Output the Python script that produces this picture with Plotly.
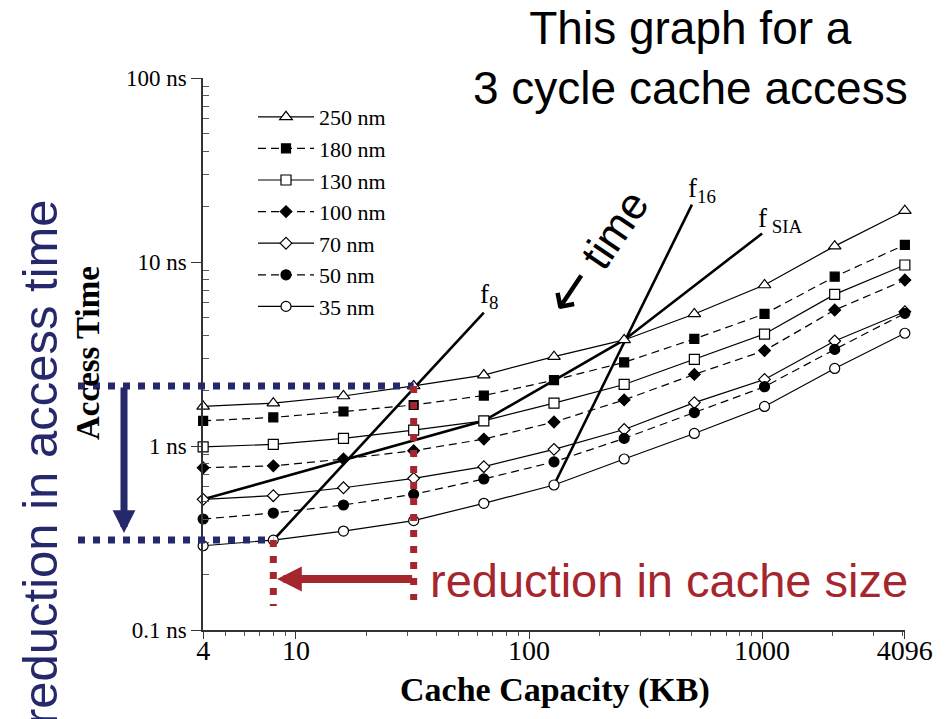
import math
import plotly.graph_objects as go

# ---------------- data ----------------
capacity_kb = [4, 8, 16, 32, 64, 128, 256, 512, 1024, 2048, 4096]
t_250nm = [1.64, 1.71, 1.87, 2.12, 2.43, 3.06, 3.77, 5.22, 7.50, 12.2, 19.0]
t_180nm = [1.37, 1.43, 1.54, 1.67, 1.88, 2.28, 2.85, 3.82, 5.22, 8.32, 12.4]
t_130nm = [0.99, 1.02, 1.10, 1.22, 1.37, 1.71, 2.16, 2.96, 4.06, 6.67, 9.63]
t_100nm = [0.762, 0.78, 0.85, 0.943, 1.09, 1.35, 1.78, 2.45, 3.30, 5.48, 7.98]
t_70nm = [0.513, 0.537, 0.593, 0.667, 0.772, 0.959, 1.23, 1.72, 2.30, 3.72, 5.37]
t_50nm = [0.401, 0.432, 0.478, 0.546, 0.662, 0.82, 1.10, 1.52, 2.10, 3.35, 5.26]
t_35nm = [0.287, 0.308, 0.345, 0.393, 0.488, 0.614, 0.85, 1.17, 1.64, 2.64, 4.10]

series_names = ["250 nm", "180 nm", "130 nm", "100 nm", "70 nm", "50 nm", "35 nm"]

f8_x = [8, 64]
f8_y = [0.308, 5.3]
f16_x = [128, 500]
f16_y = [0.614, 20.5]
fsia_x = [4, 64, 256, 1000]
fsia_y = [0.513, 1.37, 3.77, 14.3]

x_tick_vals = [4, 10, 100, 1000, 4096]
x_tick_text = ["4", "10", "100", "1000", "4096"]
y_tick_vals = [0.1, 1, 10, 100]
y_tick_text = ["0.1 ns", "1 ns", "10 ns", "100 ns"]

# ---------------- layout helpers ----------------
W, H = 945, 719
L, R, T, B = 203, 40, 78, 89
PW, PH = W - L - R, H - T - B
EPS = 0.0006
XMIN, XMAX = math.log10(4) - EPS, math.log10(4096) + EPS
YMIN, YMAX = -1, 2


def px_x(p):
    return (p - L) / PW


def px_y(p):
    return (H - B - p) / PH


def dx(v):
    return (math.log10(v) - XMIN) / (XMAX - XMIN)


def dy(v):
    return (math.log10(v) - YMIN) / (YMAX - YMIN)


SERIF = "Liberation Serif, Times New Roman, serif"
SANS = "Liberation Sans, Arial, sans-serif"
NAVY = "#25286a"
RED = "#a6262e"

fig = go.Figure()

styles = [
    (t_250nm, "triangle-up", "white", 11, "solid"),
    (t_180nm, "square", "black", 9, "8px,5px"),
    (t_130nm, "square", "white", 10, "solid"),
    (t_100nm, "diamond", "black", 9, "8px,5px"),
    (t_70nm, "diamond", "white", 9, "solid"),
    (t_50nm, "circle", "black", 10, "8px,5px"),
    (t_35nm, "circle", "white", 10, "solid"),
]

# frequency lines first (under markers)
for xs, ys in [(f8_x, f8_y), (f16_x, f16_y), (fsia_x, fsia_y)]:
    fig.add_trace(go.Scatter(x=xs, y=ys, mode="lines",
                             line=dict(color="black", width=2.6),
                             showlegend=False, hoverinfo="skip"))

for name, (vals, sym, fill, size, dash) in zip(series_names, styles):
    fig.add_trace(go.Scatter(
        x=capacity_kb, y=vals, name=name, mode="lines+markers",
        line=dict(color="black", width=1.2, dash=dash),
        marker=dict(symbol=sym, color=fill, size=size,
                    line=dict(color="black", width=1.2)),
        cliponaxis=False,
    ))

# ---------------- guides ----------------
y_top = dy(t_250nm[3])
y_bot = dy(t_35nm[1])
x_32 = dx(capacity_kb[3])
x_8 = dx(capacity_kb[1])

shapes = [
    dict(type="line", xref="paper", yref="paper", x0=px_x(78), x1=x_32, y0=y_top, y1=y_top,
         line=dict(color=NAVY, width=7, dash="7px,8px"), layer="above"),
    dict(type="line", xref="paper", yref="paper", x0=px_x(78), x1=x_8, y0=y_bot, y1=y_bot,
         line=dict(color=NAVY, width=7, dash="7px,8px"), layer="above"),
    dict(type="line", xref="paper", yref="paper", x0=x_32, x1=x_32, y0=y_top, y1=px_y(600),
         line=dict(color=RED, width=7, dash="7px,9px"), layer="above"),
    dict(type="line", xref="paper", yref="paper", x0=x_8, x1=x_8, y0=y_bot, y1=px_y(606),
         line=dict(color=RED, width=7, dash="7px,9px"), layer="above"),
]


def flabel(xs, ys, text, xshift, yshift):
    return dict(xref="x", yref="y", x=math.log10(xs[-1]), y=math.log10(ys[-1]), text=text,
                showarrow=False, xanchor="left", yanchor="bottom", xshift=xshift, yshift=yshift,
                font=dict(family=SERIF, size=27, color="black"))


annotations = [
    # arrows
    dict(xref="paper", yref="paper", x=px_x(124), y=px_y(533), ax=0,
         ay=-(533 - (H - B - y_top * PH)), text="", showarrow=True,
         arrowhead=2, arrowwidth=7, arrowsize=0.65, arrowcolor=NAVY, standoff=0),
    dict(xref="paper", yref="paper", x=px_x(277), y=px_y(579),
         ax=(L + x_32 * PW) - 277, ay=0, text="", showarrow=True,
         arrowhead=2, arrowwidth=8, arrowsize=0.62, arrowcolor=RED, standoff=0),
    # texts
    dict(xref="paper", yref="paper", x=px_x(690), y=px_y(58), text="This graph for a<br>3 cycle cache access",
         showarrow=False, font=dict(family=SANS, size=46, color="black"), xanchor="center", yanchor="middle"),
    dict(xref="paper", yref="paper", x=px_x(428), y=px_y(580), text="reduction in cache size",
         showarrow=False, font=dict(family=SANS, size=47, color=RED), xanchor="left", yanchor="middle"),
    dict(xref="paper", yref="paper", x=px_x(40), y=px_y(462), text="reduction in access time",
         showarrow=False, textangle=-90, font=dict(family=SANS, size=49, color=NAVY),
         xanchor="center", yanchor="middle"),
    dict(xref="paper", yref="paper", x=px_x(596), y=px_y(252),
         text="<span style='font-family:DejaVu Sans;font-size:54px'>\u2190</span> time",
         showarrow=False, textangle=-56, font=dict(family=SANS, size=44, color="black"),
         xanchor="center", yanchor="middle"),
    dict(xref="paper", yref="paper", x=px_x(88), y=px_y(353), text="<b>Access Time</b>",
         showarrow=False, textangle=-90, font=dict(family=SERIF, size=33, color="black"),
         xanchor="center", yanchor="middle"),
    dict(xref="paper", yref="paper", x=px_x(555), y=px_y(690), text="<b>Cache Capacity (KB)</b>",
         showarrow=False, font=dict(family=SERIF, size=34, color="black"),
         xanchor="center", yanchor="middle"),
    flabel(f8_x, f8_y, "f<sub>8</sub>", -6, -2),
    flabel(f16_x, f16_y, "f<sub>16</sub>", -6, -4),
    flabel(fsia_x, fsia_y, "f<sub> SIA</sub>", -6, -6),
]

x_minor = [k * 10 ** e for e in range(0, 4) for k in range(2, 10)
           if 4 < k * 10 ** e < 4096 and k * 10 ** e not in x_tick_vals]
y_minor = [k * 10 ** e for e in range(-1, 2) for k in range(2, 10)]

fig.update_layout(
    width=W, height=H,
    margin=dict(l=L, r=R, t=T, b=B),
    paper_bgcolor="white", plot_bgcolor="white",
    shapes=shapes, annotations=annotations,
    showlegend=True,
    legend=dict(x=px_x(253), y=px_y(96), xanchor="left", yanchor="top",
                bgcolor="rgba(0,0,0,0)", font=dict(family=SERIF, size=22, color="black"),
                itemwidth=56, tracegroupgap=0),
    xaxis=dict(type="log", range=[XMIN, XMAX], tickvals=x_tick_vals, ticktext=x_tick_text,
               ticks="outside", ticklen=7, tickwidth=1.3, tickcolor="#333",
               showline=True, linecolor="#333", linewidth=1.5, showgrid=False, zeroline=False,
               tickfont=dict(family=SERIF, size=28, color="black"), ticklabelstandoff=-12,
               minor=dict(tickvals=x_minor, ticks="outside", ticklen=4, tickcolor="#555", showgrid=False)),
    yaxis=dict(type="log", range=[YMIN, YMAX], tickvals=y_tick_vals, ticktext=y_tick_text,
               ticks="outside", ticklen=10, tickwidth=1.3, tickcolor="#333",
               showline=True, linecolor="#333", linewidth=1.5, showgrid=False, zeroline=False,
               tickfont=dict(family=SERIF, size=23, color="black"),
               minor=dict(tickvals=y_minor, ticks="inside", ticklen=6, tickcolor="#555", showgrid=False)),
)

fig.write_html("out.html")
